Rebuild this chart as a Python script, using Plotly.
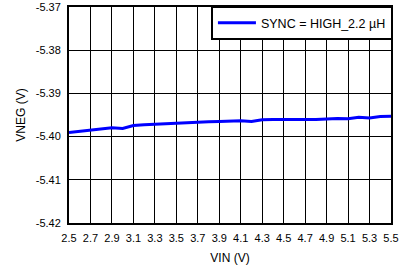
import plotly.graph_objects as go

vin = [2.5, 2.6, 2.7, 2.8, 2.9, 3.0, 3.1, 3.2, 3.3, 3.4, 3.5, 3.6, 3.7, 3.8, 3.9, 4.0,
       4.1, 4.2, 4.3, 4.4, 4.5, 4.6, 4.7, 4.8, 4.9, 5.0, 5.1, 5.2, 5.3, 5.4, 5.5]
vneg = [-5.39903, -5.39873, -5.39841, -5.39811, -5.39795, -5.39811, -5.39742, -5.39726,
        -5.39712, -5.39696, -5.39689, -5.39677, -5.39668, -5.39657, -5.39650, -5.39641,
        -5.39634, -5.39650, -5.39608, -5.39604, -5.39604, -5.39608, -5.39620, -5.39604,
        -5.39592, -5.39581, -5.39588, -5.39553, -5.39571, -5.39535, -5.39528]
series_name = "SYNC = HIGH_2.2 µH"

x_ticks = [2.5, 2.7, 2.9, 3.1, 3.3, 3.5, 3.7, 3.9, 4.1, 4.3, 4.5, 4.7, 4.9, 5.1, 5.3, 5.5]
y_ticks = [-5.42, -5.41, -5.40, -5.39, -5.38, -5.37]
y_tick_text = ["-5.42", "-5.41", "-5.40", "-5.39", "-5.38", "-5.37"]

fig = go.Figure()
fig.add_trace(go.Scatter(x=vin, y=vneg, mode="lines", name=series_name,
                         line=dict(color="#0000ff", width=3)))

fam = "Liberation Sans, Arial, sans-serif"
tick_font = dict(family=fam, size=11, color="black")
big_font = dict(family=fam, size=12, color="black")
leg_font = dict(family=fam, size=12.5, color="black")
fig.update_layout(
    width=405, height=265,
    margin=dict(l=69, r=14, t=7, b=42, autoexpand=False),
    paper_bgcolor="white", plot_bgcolor="white",
    font=tick_font,
    showlegend=True,
    legend=dict(x=1.006, y=1.004, xanchor="right", yanchor="top",
                bordercolor="black", borderwidth=2, bgcolor="white",
                font=leg_font, itemwidth=38, tracegroupgap=0),
    xaxis=dict(range=[2.5, 5.5], tickvals=x_ticks, ticktext=[f"{v:.1f}" for v in x_ticks],
               showgrid=True, gridcolor="black", gridwidth=1,
               showline=True, linecolor="black", linewidth=2, mirror=True,
               ticks="", zeroline=False, ticklabelstandoff=4, tickfont=tick_font,
               automargin=False, ticklabeloverflow="allow",
               title=dict(text="VIN (V)", font=big_font, standoff=10)),
    yaxis=dict(range=[-5.42, -5.37], tickvals=y_ticks, ticktext=y_tick_text,
               showgrid=True, gridcolor="black", gridwidth=1,
               showline=True, linecolor="black", linewidth=2, mirror=True,
               ticks="", zeroline=False, ticklabelstandoff=4, tickfont=tick_font,
               automargin=False, ticklabeloverflow="allow",
               title=dict(text="VNEG (V)", font=big_font, standoff=8)),
)
fig.write_html("out.html")
